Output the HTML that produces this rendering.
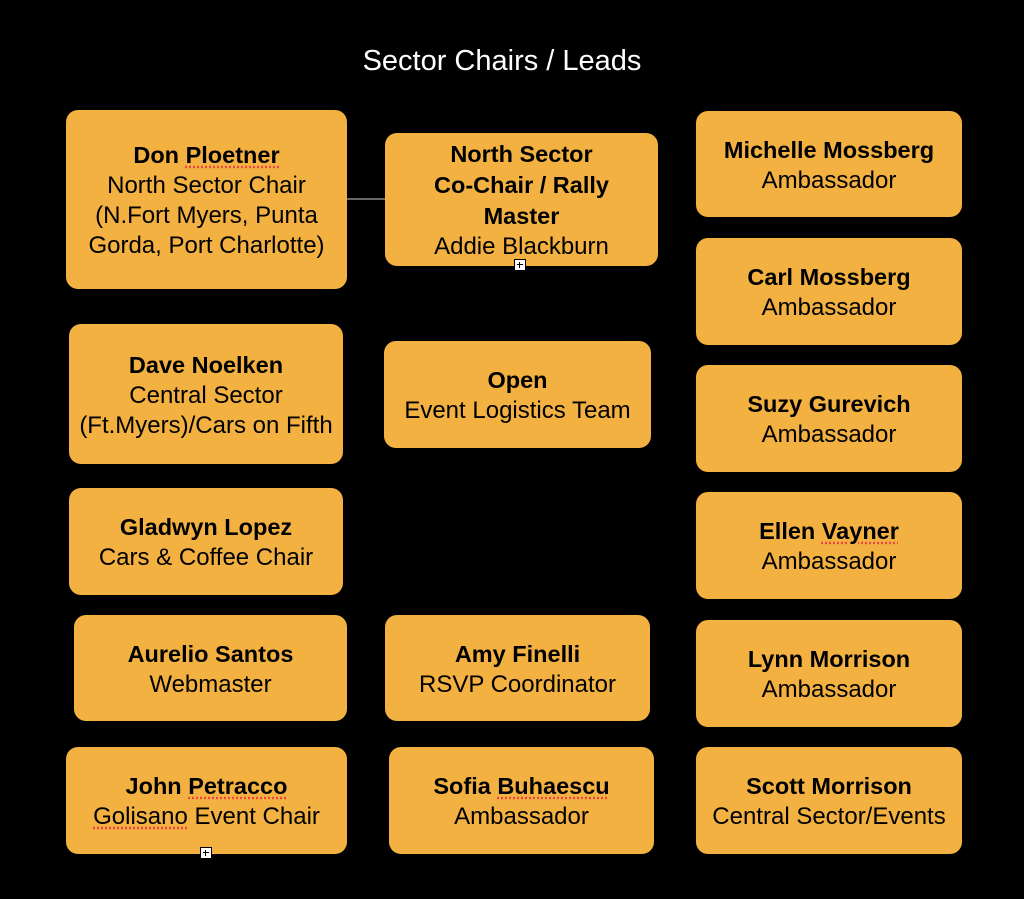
<!DOCTYPE html>
<html><head><style>
body{margin:0;width:1024px;height:899px;background:#000;position:relative;overflow:hidden;font-family:"Liberation Sans",Arial,sans-serif}
.b{position:absolute;background:#F2B140;border-radius:12px;display:flex;align-items:center;justify-content:center;text-align:center;font-size:24px;line-height:30px;color:#000;box-sizing:border-box;padding-top:2px;white-space:nowrap}
.b b{font-weight:bold;font-size:23.5px}
.t{position:absolute;left:0;width:1004px;top:45px;text-align:center;color:#fff;font-size:29px}
.p{position:absolute;width:12px;height:12px;background:#fff;border:1px solid #000;box-sizing:border-box}
.p:before{content:"";position:absolute;left:2px;top:4px;width:6px;height:1px;background:#000}
.p:after{content:"";position:absolute;left:4px;top:2px;width:1px;height:6px;background:#000}
.u{text-decoration:underline dotted #e44;text-underline-offset:3px}
</style></head><body>
<div class="t">Sector Chairs / Leads</div>
<div style="position:absolute;left:347px;top:198px;width:38px;height:2px;background:#666"></div>
<div class="b" style="left:66px;top:110px;width:281px;height:179px"><div><b>Don <span class="u">Ploetner</span></b><br>North Sector Chair<br>(N.Fort Myers, Punta<br>Gorda, Port Charlotte)</div></div>
<div class="b" style="left:385px;top:133px;width:273px;height:133px"><div><b>North Sector<br>Co-Chair / Rally<br>Master</b><br>Addie Blackburn</div></div>
<div class="b" style="left:696px;top:111px;width:266px;height:106px"><div><b>Michelle Mossberg</b><br>Ambassador</div></div>
<div class="b" style="left:696px;top:238px;width:266px;height:107px"><div><b>Carl Mossberg</b><br>Ambassador</div></div>
<div class="b" style="left:696px;top:365px;width:266px;height:107px"><div><b>Suzy Gurevich</b><br>Ambassador</div></div>
<div class="b" style="left:696px;top:492px;width:266px;height:107px"><div><b>Ellen <span class="u">Vayner</span></b><br>Ambassador</div></div>
<div class="b" style="left:696px;top:620px;width:266px;height:107px"><div><b>Lynn Morrison</b><br>Ambassador</div></div>
<div class="b" style="left:696px;top:747px;width:266px;height:107px"><div><b>Scott Morrison</b><br>Central Sector/Events</div></div>
<div class="b" style="left:69px;top:324px;width:274px;height:140px"><div><b>Dave Noelken</b><br>Central Sector<br>(Ft.Myers)/Cars on Fifth</div></div>
<div class="b" style="left:384px;top:341px;width:267px;height:107px"><div><b>Open</b><br>Event Logistics Team</div></div>
<div class="b" style="left:69px;top:488px;width:274px;height:107px"><div><b>Gladwyn Lopez</b><br>Cars &amp; Coffee Chair</div></div>
<div class="b" style="left:74px;top:615px;width:273px;height:106px"><div><b>Aurelio Santos</b><br>Webmaster</div></div>
<div class="b" style="left:385px;top:615px;width:265px;height:106px"><div><b>Amy Finelli</b><br>RSVP Coordinator</div></div>
<div class="b" style="left:66px;top:747px;width:281px;height:107px"><div><b>John <span class="u">Petracco</span></b><br><span class="u">Golisano</span> Event Chair</div></div>
<div class="b" style="left:389px;top:747px;width:265px;height:107px"><div><b>Sofia <span class="u">Buhaescu</span></b><br>Ambassador</div></div>
<div class="p" style="left:514px;top:259px"></div>
<div class="p" style="left:200px;top:847px"></div>
</body></html>
